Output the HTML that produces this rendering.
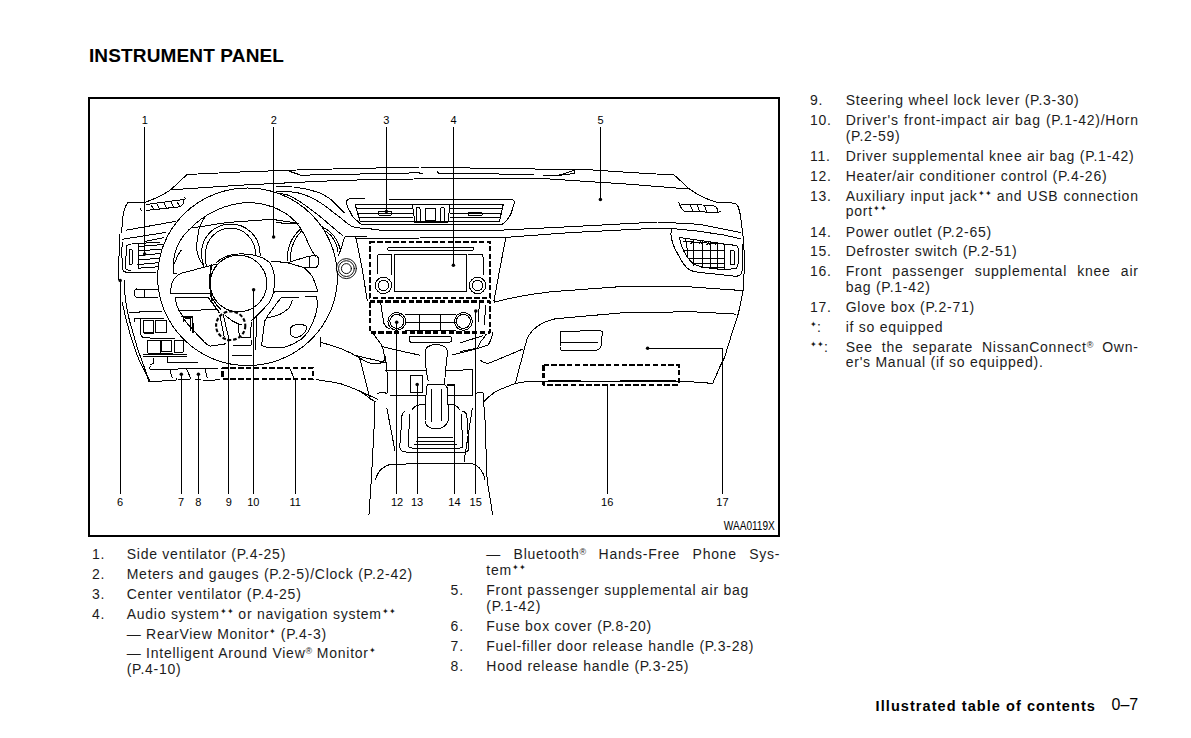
<!DOCTYPE html>
<html><head><meta charset="utf-8"><title>Instrument Panel</title>
<style>
html,body{margin:0;padding:0;background:#fff;}
body{width:1191px;height:738px;position:relative;overflow:hidden;font-family:"Liberation Sans",sans-serif;color:#000;}
.t{position:absolute;font-size:14px;line-height:16px;letter-spacing:0.75px;white-space:nowrap;color:#1c1c1c;}
.t.j{text-align:justify;text-align-last:justify;white-space:normal;}
.st{font-size:8px;vertical-align:5px;letter-spacing:0;line-height:0;}
.rg{font-size:9px;vertical-align:4px;letter-spacing:0;line-height:0;}
.h1{position:absolute;font-size:19px;line-height:19px;font-weight:bold;letter-spacing:0.15px;white-space:nowrap;}
.frame{position:absolute;left:88px;top:97px;width:688px;height:436px;border:2px solid #000;}
.foot{position:absolute;font-size:14.5px;line-height:16px;font-weight:bold;letter-spacing:1.07px;white-space:nowrap;}
.pg{position:absolute;font-size:16px;line-height:16px;white-space:nowrap;}
svg.dr{position:absolute;left:0;top:0;}

</style></head>
<body>
<div class="h1" style="left:88.9px;top:46.12px;">INSTRUMENT PANEL</div>
<div class="frame"></div>
<svg class="dr" width="1191" height="738" viewBox="0 0 1191 738">
<g fill="none" stroke="#000" stroke-width="1" stroke-linecap="round" stroke-linejoin="round" shape-rendering="crispEdges">
<!-- dashboard top lines -->
<path d="M187,174.5 L240,172 L311,169.5 L420,167 L500,168.6 L587,169.6 L631.6,172.6 L674,175 C680,180 684,184 688,188 C696,194 706,199 716,202 L735,203.2 C739,205 740,212 741,220 L743.5,240 L744.5,260 L743.5,289"/>
<path d="M187,174.5 L170.7,189.8 C163,195 153,199.5 144.7,202.5 L127.6,202.7 C123.5,208 122.5,216 122.2,224.3 L121.6,233"/>
<path d="M170.7,189.8 L240.5,185.2 L321,181.2 L381.5,179.2 L500,178.5 L542.3,178.5 L631.6,184.4 L688,189"/>
<path d="M288.8,171.1 L301,175.2 L419,172.8 C420.5,173.8 421.5,174 423,173.8 M437.5,172 C438.5,173.5 439.5,173.8 441,173.6 L450,173.6 L534,174.3 M543,175 L561,175"/>
<path d="M558,175.5 L575,170 L574,173.5 Z"/>
<!-- hood sweep line across -->
<path d="M276.1,191 L288.3,191.6 C293,192 297,192.5 300.5,193.4 C304,194.5 307,195.8 310.2,197.1 C314,199 318,201 321.2,203.2 C325,206 328,208 331,210.5 L340.7,217.8 C343,220 345.5,222 348,223.9 C350,225.5 352.5,227 355.4,227.6 L370,228.8 L380,230.2 L500,230.2 L570.5,226.7 L657.5,222 L699.8,224.3 L741,232.6"/>
<path d="M355.1,238.4 L504,237.5 L570.5,232.6 L641,229 L672.9,228.6 L698.6,231.2 L724.4,235.1 L741.1,238.9"/>
<!-- passenger lower dash -->
<path d="M494.1,302.3 C510,298 530,294 550.5,291.8 L621,286.6 L691.6,287 L743,290.6"/>
<!-- glove box -->
<path d="M527,338.8 C531,330 538,323 555.2,318.8 L621,312.9 L691.6,311.7 L736.2,314.1"/>
<path d="M527,338.8 L515.3,383.4 C525,381.5 533,381 538.8,381.1 L682.2,381.1 L712.7,383.4 L719.8,367"/>
<path d="M743.5,289 L741,301.2 C739,312 736,322 733.9,327 L724.5,357.6 L719.8,367"/>
<path d="M561,331.5 L600,330.5 L602.5,331.5 L601,346 C600,349.5 598,350.5 594,350.5 L563,350.5 C560.5,350.5 559.8,349 560,346 Z M560.5,342.2 L598,342.2"/>
<path d="M480,360 C484,364 488,364 492,362 L522.3,349.3"/>
<path d="M483.5,402.2 C490,395 497,390 503.5,388.1 L515.3,383.4"/>
<!-- passenger side vent -->
<path d="M671.6,229.9 C670.8,232 670.8,233.5 671,235.1 C671.5,238 672,241 672.9,244.1 C674.5,248 676,251 678,254.4 C680,258 681.5,261 683.2,263.4 C685,266 687,268.5 689.6,269.8 C692,271.2 695,272 698.6,272.4 L724.4,275 L736,276.3 C738.5,276 740.5,275 741.1,273.7 C742,271.5 742.4,269.5 742.4,267.3 L742.4,244.1"/>
<path d="M679.3,237.6 C680,240.5 680.8,243.5 681.9,246.6 C683.5,251 685.5,255 688.3,258.2 C690,261 692,263 694.8,264.7 C700,266.5 705,267.8 711.5,268.5 L724.4,269.8 L736,268.5 C737.5,266.5 738.3,264 738.5,262.1 L738.5,249.2 C738.3,247.5 737.3,246 736,245.4 L724.4,244.1 L685.7,238.3 Z"/>
<path d="M684,241.5 L724.4,244.1 M683,250.5 L724.4,250.5 M688,258.2 L724.4,258.2 M694,263.4 L724.4,263.4 M700,267 L724.4,267.5"/>
<path d="M685.7,238.3 L688,256 M693.5,239.5 L693.5,265.5 M702.5,240.5 L702.5,267.5 M710.2,241.5 L710.2,268.3 M717.9,242.5 L717.9,269.2 M724.4,244.1 L724.4,269.8"/>
<path d="M730.2,251.5 C730.2,250.8 731,250.5 732.4,250.5 C734,250.5 734.7,251 734.7,252 L734.7,263.5 C734.7,264.3 734,264.7 732.4,264.7 C731,264.7 730.2,264.3 730.2,263.5 Z"/>
<path d="M691,243.5 L692.5,241.5 L694,243.5 M699,244 L700.5,242 L702,244 M707,244.5 L708.5,242.5 L710,244.5 M715,245 L716.5,243 L718,245"/>
<!-- right defroster vent -->
<path d="M678.7,202 C680,206 682,210 684,211 L718,212.6 L721,211 M681,204 L713,205.5 C716,206 718,209 718,212 M690,204.5 L693,211.5 M697,205 L700,212 M704,205 L707,212"/>

<!-- left top small vent -->
<path d="M146.9,204.4 L183.7,199.5 C185.5,199 185.5,198 184.8,197.8 M146.9,210.4 L179.4,206.8 C182,206 184,203 184,199.8"/>
<path d="M151,205 L154,209.8 M157,204.3 L160,209.4 M164,203.4 L167,208.6 M171,202.5 L174,207.8 M177,201.7 L180,207"/>
<path d="M140,208 L141.5,210.5"/>
<!-- left panel -->
<path d="M119.4,234.7 L118.6,280"/>
<path d="M126,230.2 L176,221.3 M122.4,239.2 L165.6,232.5 M144.7,241.4 L164,237.7"/>
<path d="M122.4,242.2 C121.5,250 122,262 123.1,270.5 C124,272 126,272.5 130,272.5 L156.6,272"/>
<path d="M126.8,245.9 C126,252 125.8,262 126,269 C127,270 128,270.5 131,270.5 M126.8,245.9 C128,244 131,243.6 138,243.6 L160,242"/>
<path d="M129.5,249.6 C131.5,249 132.5,250 132.5,252 L132.5,263 C132.5,265 130.5,265 129.5,264 C129,262 129,252 129.5,249.6 Z"/>
<path d="M138,243.6 L138,269.2"/>
<path d="M138,246.6 L163,244.5 M138,251.1 L162,249 M138,255.6 L161,253.5 M138,260 L160,258.2 M138,264.5 L159,262.7 M138,268.2 L158,266.8"/>
<path d="M124.4,280 C124.5,290 125,297 126,302.8 C127.5,312 129,320 130.9,325.5 C134,336 136,343 137.4,348.3 L143.9,366.2 L148.8,380.8"/>
<path d="M122.2,302.4 C127,325 133,345 139,360 L150.2,381.7"/>
<path d="M148.8,381.5 L175.9,380.5 L177,378.5 M178,379.5 L189.3,379.3 M195.4,379.3 L201,379.5 M203,380.5 L211.2,380.5 L219.8,379.3"/>
<path d="M136.5,289 L157.5,289 M136.5,297.3 L157.5,297.3 M136.5,289 C133.5,290 133.5,296 136.5,297.3 M144.7,289 L144.7,297.3"/>
<!-- switches -->
<path d="M129.5,312.2 L161.2,311.6 M134.4,321.5 L134.4,318.3 L163.7,318.3 M140.5,318.3 L140.5,334 C141,336 143,337.8 145.4,337.8 L175,339"/>
<path d="M143.5,320.1 L153.3,320.1 L153.3,332.3 L143.5,332.3 Z M144.5,333.2 L153.8,333.2 M155.7,320.1 L166.1,320.1 L166.1,332.3 L155.7,332.3 Z"/>
<path d="M183.2,317 L192.9,317 L192.9,332.9 M183.2,317 L183.2,322"/>
<path d="M147.8,340.2 L160,340.2 L160,353 L147.8,353 Z M161.8,340.2 L171.6,340.2 L171.6,351.2 L161.8,351.2 Z M174,340.2 L183.2,340.2 L183.2,352 L174,352 Z M148.5,353.8 L173,353.8"/>
<path d="M142.9,354.9 L186.8,354.9 M142.9,356.1 L186.8,356.1"/>
<path d="M153.9,358.5 L153.3,363.4 L150.5,364.6 M167.3,356.1 L167.3,362.2 L197.8,362.2"/>
<path d="M151,365.9 C149.5,366.5 149.5,369 150.5,369.5 L217.3,368.3"/>
<path d="M169.8,369.5 L172.2,378 M186.8,369.5 L190.5,378 M205.1,369.5 C206.5,372 205,374 207.6,378"/>
<!-- steering wheel outer -->
<ellipse cx="247.5" cy="276.8" rx="89.9" ry="88.8"/>
<!-- inner rim upper -->
<path d="M173.1,265.2 C174,250 180,238 188.7,230 C203,215 224,203.5 247.7,202.5 C270,203 290,212 300.3,227.9 C305,235 308,242 309.8,246.9 L315.2,256.4"/>
<!-- inner rim lower left -->
<path d="M175.4,298 C176,305 178,309 180.8,313 C184,320 187,324 191.7,328.2 C196,333 199,337 202.5,340.1 C205,343 207,345 210.1,346.1 L225.3,343.9"/>
<!-- inner rim lower right / right spoke lower contour -->
<path d="M316.7,296.9 L317.5,305 C317,310 316,314 315.1,316.3 C313,322 311,327 308.6,331 C305,336 302,339 298.9,340.7 C294,344 289,346 284.2,347.2 L269.6,348 L261.5,345.6 L264.7,321.2 L266.4,318"/>
<!-- gauges -->
<path d="M203.9,266.4 C202,262 201.5,257 201.6,252 C202,236 215,224 230.5,224 C246,224 259.5,236 259.7,252 L260.5,255.2"/>
<path d="M206.2,266.3 C205.8,262 205.5,257 205.5,253 C206,239 217,228.2 230.5,228.2 C244,228.2 255,239 255.5,253 L255.7,256"/>
<path d="M287.5,260.5 C287,250 289,240 300.3,229.3 M290.2,260.5 C290,251 292,241 301.7,230.7"/>
<!-- cluster hood line -->
<path d="M191.9,228 L227,222.5 L271.7,219.3 L298.8,223.3"/>
<!-- left cluster bezel -->
<path d="M206.3,215.3 C201,222 199,227 198.3,232.9 C197,240 196.5,244 196.7,248.8 C197.5,255 199,260 203,264.8"/>
<path d="M181.3,250 C178,255 176,258 175.8,260.8 L173.1,265.2 L173.1,273.3 L176.9,273.8"/>
<!-- hub -->
<circle cx="238.5" cy="283.5" r="28.3"/>
<path d="M211.6,265.2 C209.5,272 209.5,292 212,300" stroke-width="1.6"/>
<path d="M211.3,300 C213,305 216,308 218.8,310.8 M212.3,298 C215,304 218,307 221,309.5"/>
<path d="M216,263 C222,257 230,254 240.9,253.8 C255,254 265,258 270,263 C274,270 275,278 274.5,284 C274,295 270,303 265.8,306.4 C262,311 258,315 251.7,320.5"/>
<!-- left spoke -->
<path d="M217,264 L197.5,269 L181.3,273.3 C177,275 173,279 171.5,284.7 L170.4,291.2 L171,294.4"/>
<path d="M170.4,293.4 L209.4,293.4"/>
<path d="M175.8,297.7 L208.4,297.7 L219.2,312.9"/>
<path d="M178.7,310.3 L215.5,309.8"/>
<path d="M181.9,316.3 L192.8,316.3 L193.3,332.5 M184.1,317.9 L190.6,319 L191,331"/>
<!-- right spoke -->
<path d="M271.2,261.1 L287.5,262.7 L303.7,267.6 C307,270 310,273 312,276 C314.5,281 316.5,286 317.5,290.4"/>
<path d="M274.5,292 L317.5,291.7"/>
<path d="M281.8,297.2 L298.9,297.2 M305.4,296.5 L316.7,296.9"/>
<path d="M281.8,297.2 C278,301 276,304 274.5,306.6 C271,311 268,315 266.4,318 C272,317 276,316 279.4,314.7 C284,312 288,309 289.1,308.2 C291,305 292,302 292.4,300.1"/>
<path d="M290,331 C290,327 293,324.5 299,324.5 C304,324.5 307,326 307,327.5 C306,332 302,336 297,337.5 C293,337.5 290,335 290,331 Z"/>
<!-- wiper stalk -->
<path d="M287.5,262.7 L308.6,256.2 L316,255.6 C318.5,256 318.8,260 318.6,263 C318.4,266 317,267.6 314,267.6 L308.6,267.8 L303.7,267.6 M309.3,256.2 L310,267.6"/>
<!-- right side hood lines -->
<path d="M276.1,186.1 L292,186.1 M294.4,187.3 C300,188 303,188.5 306.6,189.1 C312,190.5 317,192 321.2,193.4 C325,195.5 328,197.5 331,199.5 C334,202 336,204.5 338.3,206.8 L344.4,212.9"/>
<path d="M276.1,192.8 C281,193.5 285,194.3 288.3,195.2 C291,196.2 292.5,197 294.4,198.3 L300.5,202 L309,208 L318.8,215.4 L327.3,222.7 L335.9,230 L343.2,236.1"/>
<path d="M322.4,227 C329,230 334,235 337.1,241 C339,245 340.3,248 340.7,252 M324.5,230.5 C330,233.5 333.5,238 335.5,243 C337,246 337.8,249 338,252"/>
<path d="M344.4,237.3 L342,245.9 L338.3,255.6"/>
<path d="M276.1,222.7 L296.8,223.9"/>
<!-- column / lever 9 -->
<path d="M223.1,314.1 L229.1,340.1 M219.9,315.2 L224.2,336.8 M225.3,315.2 C230,320 235,323 241.5,324.9 M238.3,324.9 L239.4,336.8 L250.2,337.9 L251.3,322.8"/>
<path d="M232.9,345 L251.3,345 C252,344 252,342 251.5,341 M232.9,355.3 L251.3,355.3"/>
<path d="M256.7,315.2 L255.6,349.9"/>
<!-- lower right dash edges -->
<path d="M320.3,342.3 C327,344 334,346 340.6,348.4 C347,351 353,354 359.6,357.9 C363,360 366,362 370.4,363.3 L378.6,364 C381,363 383,362 384,360.6 L385.3,356.6"/>
<path d="M320.3,337.6 L320.3,347"/>
<path d="M359.6,357.9 L370.4,400"/>
<path d="M316.3,379.6 C325,381 333,382 340.6,383.7 C347,386 353,388 358.2,390.4 C363,393 367,396 370.4,398.6 L375.8,402"/>
<!-- center vent 3 -->
<path d="M346,202.1 C347,200 348,199 349.1,198.8 L364.2,198.3 M389.9,199.4 L503.2,199.4 L512.3,199.8 C514,200.5 514.8,201.5 514.5,202.8 L510.8,214.2 C508,219 506,221 504.7,222.5 C503.5,223.5 502,224.5 500.2,224.8 L362.7,224.8 C360,224 358,222 356.6,220.2 C354,219 352,216 350.6,212.7 C349,210 347,206 346,202.1"/>
<path d="M355.1,204.7 L503.2,204.7 M355.1,204.7 C357,210 358,215 359.8,221 L499.5,221 M503.2,204.7 C502,210 501,215 499.5,221"/>
<path d="M357,208.9 L412.5,208.9 M358.5,213.4 L412.5,213.4 M359.5,217.2 L412.5,217.2 M450,208.9 L502,208.9 M450,213.4 L501,213.4 M450,217.2 L500.5,217.2"/>
<path d="M412.5,204.7 L449.9,204.7 L448,222.5 L414.8,222.5 Z"/>
<path d="M416.3,208.5 C416.3,207.5 417,207.2 418,207.2 C419.5,207.2 420.1,207.8 420.1,209 L420.1,220.5 C420.1,221.5 419.5,221.8 418.5,221.8 C417,221.8 416.3,221 416.3,220 Z"/>
<rect x="425.4" y="208.6" width="10.1" height="11.6"/>
<path d="M440.5,209 C440.5,207.8 441.2,207.2 442.5,207.2 C443.8,207.2 444.3,208 444.3,209 L444.3,220.5 C444.3,221.5 443.6,221.8 442.5,221.8 C441.2,221.8 440.5,221 440.5,220 Z"/>
<rect x="378.5" y="211.9" width="12.9" height="3.1"/>
<rect x="468.5" y="212.7" width="13.5" height="2.5"/>
<!-- center stack sides -->
<path d="M345,236.1 L366.7,236.7 M355.9,237.4 L362,268 L367.3,300.6"/>
<path d="M505.9,237.2 L500,268 L494,300.6 L494,302"/>
<!-- audio unit -->
<rect x="369.6" y="241.7" width="120.7" height="55.9" stroke-width="2.2" stroke-dasharray="5.5 2.3" stroke-linecap="butt"/>
<rect x="387.5" y="247.7" width="86.4" height="2.6" rx="1.3"/>
<rect x="394.6" y="254.4" width="71.8" height="37.2"/>
<circle cx="383.4" cy="285.4" r="8.2"/><circle cx="383.4" cy="285.4" r="5.2"/>
<circle cx="477.6" cy="285.4" r="8.2"/><circle cx="477.6" cy="285.4" r="5.2"/>
<path d="M377,275.2 L377.3,257 C377.5,255 378.5,254.4 380,254.4 L391.2,254.4 L391.2,275"/>
<path d="M468.5,254.4 L480.5,254.4 C482,254.4 483,255.5 483,257 L484,275"/>
<!-- climate -->
<rect x="369.6" y="301.5" width="120.3" height="31" stroke-width="2.2" stroke-dasharray="5.5 2.3" stroke-linecap="butt"/>
<circle cx="396.8" cy="321.4" r="8.9"/><circle cx="396.8" cy="321.4" r="7"/>
<circle cx="463.4" cy="321.4" r="8.9"/><circle cx="463.4" cy="321.4" r="7"/>
<path d="M405.3,314.7 L455.2,314.7 M405.3,330.4 L455.2,330.4 M405.3,322.9 L455.2,322.9 M419.5,314.7 L419.5,330.4 M440.3,314.7 L440.3,330.4"/>
<path d="M380.8,303.5 L383.7,322.9 C385,326 387,328 390,329 M479.5,303.5 L478,322 M486,305 L484,325"/>
<rect x="409" y="336.3" width="42.5" height="6" rx="2.5"/>
<path d="M373.3,333.3 C376,338 378,340 381.3,344.4 C383,348 384,351 384,353.9 L386.7,364.7 L388,393.1"/>
<path d="M381.3,346.4 C395,350 410,353 420,355.2 M452,355 C465,352 478,349 488,345 C491,341 492,337 492.5,333"/>
<path d="M486.4,334 C485,337 483,339 481,341 C479.5,343.5 478.5,345.5 477.6,348 M460,342.8 L483,335.8 M460,351.6 L477.6,348.1"/>
<!-- console -->
<path d="M425.1,352.4 C425,347 430,344.6 436.3,344.6 C442,344.6 447.5,347 447.5,352.4 L445.5,370.7 L444.5,384.9 M425.1,352.4 L426.2,370.7 L428.2,380.8"/>
<path d="M428.2,384 C426.5,385.5 426.2,387 426.2,390 L425,421 C425.5,426 430,428.6 436.3,428.6 C443,428.6 447,425 448.5,419.5 L447.5,390 C447.3,386.5 446.5,385.5 444.5,384.9 Z"/>
<path d="M431.3,389 L431.5,421 M441.4,389 L441.2,421"/>
<rect x="410.3" y="375.7" width="12.2" height="16.3"/>
<path d="M385.5,370.7 L425.5,370.7 M445.5,370.7 L472.9,369.6 M389.6,395 L425,395 M447.5,395 L473,395"/>
<path d="M355,355.4 L385.5,362.5 M355,389 L377.4,399.1"/>
<path d="M378,393.5 C379,392.6 381,392.3 384,392.5 L387,393.5 M374.5,402 L374.5,420 L371.3,480 L369,514.5"/>
<path d="M483,393 L485,420 L487.1,480 L492.7,515"/>
<path d="M475,394 C478,392 481,392 483,393"/>
<path d="M386.9,408.5 L395,451 M472.9,369.6 L473,395 M472.3,408.5 L464.1,461.3"/>
<path d="M375.3,480 C378,470 385,465 391.6,464.2 L468.8,463.2 C478,464 483,470 485,480"/>
<path d="M405,411.3 C402,412 401.5,415 401.8,420 L399.7,447 C400,451 402,452 406,452 L465,452 C468,452 469,450 468.8,447 L467,418 C467,414 465,411.3 462,411.3"/>
<path d="M410,414 L408,445 C408,447 410,448 412,448 L460,448 C462,448 463,447 463,445 L461,414 M418,437.5 L453,437.5 M416,441 L455,441 M414,444.5 L457,444.5"/>
<path d="M426,404 C420,404 414,406 412,410 M447,404 C454,404 458,406 460,410"/>
<!-- hazard knob -->
<g shape-rendering="geometricPrecision" stroke-width="0.95"><circle cx="346.4" cy="268.6" r="10"/>
<circle cx="346.4" cy="268.6" r="7.9"/>
<circle cx="346.4" cy="268.6" r="5"/></g>
<!-- leaders -->
<g stroke-width="1.1">
<path d="M144.6,127.5 L144.6,254"/>
<path d="M273.6,127.5 L273.6,237"/>
<path d="M386.4,127.5 L386.4,211.4"/>
<path d="M453.4,127.5 L453.4,265.3"/>
<path d="M600.4,127.5 L600.4,199.4"/>
<path d="M120.2,280.6 L120.2,493.5"/>
<path d="M181.3,374.2 L181.3,493.5"/>
<path d="M198.4,374.2 L198.4,493.5"/>
<path d="M228.5,340.2 L228.5,493.5"/>
<path d="M253.6,289.8 L253.6,493.5"/>
<path d="M295.1,379.5 L295.1,493.5"/>
<path d="M396.7,322.3 L396.7,493.5"/>
<path d="M417.2,384.6 L417.2,493.5"/>
<path d="M447.5,385 L454.5,385 L454.5,493.5"/>
<path d="M475.8,311 L475.8,493.5"/>
<path d="M607.5,384.6 L607.5,493.5"/>
<path d="M647.6,348.2 L722.3,348.2 L722.3,493.5"/>
</g>
<g fill="#000" stroke="none" shape-rendering="geometricPrecision">
<circle cx="144.6" cy="254" r="1.75"/><circle cx="273.6" cy="237" r="1.75"/><circle cx="386.4" cy="211.4" r="1.75"/>
<circle cx="453.4" cy="265.3" r="1.75"/><circle cx="600.4" cy="199.4" r="1.75"/><circle cx="120.2" cy="280.6" r="1.75"/>
<circle cx="181.3" cy="374.2" r="1.75"/><circle cx="198.4" cy="374.2" r="1.75"/><circle cx="253.6" cy="289.8" r="1.75"/>
<circle cx="396.7" cy="322.3" r="1.75"/><circle cx="417.2" cy="384.6" r="1.75"/><circle cx="475.8" cy="311" r="1.75"/>
<circle cx="647.6" cy="348.2" r="1.75"/><circle cx="228.5" cy="340.2" r="1.4"/>
</g>
<!-- dashed: knee airbag, passenger knee airbag, circle 9 -->
<rect x="222.5" y="367.9" width="90.8" height="11.2" stroke-width="2.2" stroke-dasharray="5.5 2.3" stroke-linecap="butt"/>
<rect x="543.5" y="364.6" width="135.1" height="20" stroke-width="2.2" stroke-dasharray="5.5 2.3" stroke-linecap="butt"/>
<ellipse cx="230.7" cy="325.7" rx="14.6" ry="14.3" stroke-width="2.1" stroke-dasharray="3.6 1.9" stroke-linecap="butt" shape-rendering="geometricPrecision"/>
<path d="M548,380.8 L581,380.8 M620,380.8 L676,381"/>
<path d="M290,369 L294,378"/>
</g>
<g font-family="Liberation Sans, sans-serif" font-size="11" text-anchor="middle" fill="#000">
<text x="144.8" y="124">1</text>
<text x="273.8" y="124">2</text>
<text x="386.4" y="124">3</text>
<text x="453.5" y="124">4</text>
<text x="600.5" y="124">5</text>
<text x="120" y="506">6</text>
<text x="181" y="506">7</text>
<text x="198.3" y="506">8</text>
<text x="228.7" y="506">9</text>
<text x="253.3" y="506">10</text>
<text x="295.2" y="506">11</text>
<text x="397" y="506">12</text>
<text x="417" y="506">13</text>
<text x="454.4" y="506">14</text>
<text x="475.7" y="506">15</text>
<text x="607.2" y="506">16</text>
<text x="722.4" y="506">17</text>
<text x="723.8" y="530" text-anchor="start" font-size="12" textLength="51" lengthAdjust="spacingAndGlyphs">WAA0119X</text>
</g>
</svg>

<div class="t" style="left:810px;top:92.35px;">9.</div>
<div class="t" style="left:845.7px;top:92.35px;">Steering wheel lock lever (P.3-30)</div>
<div class="t" style="left:810px;top:112.15px;">10.</div>
<div class="t j" style="left:845.7px;top:112.15px;width:293px;">Driver's front-impact air bag (P.1-42)/Horn</div>
<div class="t" style="left:845.7px;top:127.65px;">(P.2-59)</div>
<div class="t" style="left:810px;top:148.15px;">11.</div>
<div class="t" style="left:845.7px;top:148.15px;">Driver supplemental knee air bag (P.1-42)</div>
<div class="t" style="left:810px;top:168.15px;">12.</div>
<div class="t" style="left:845.7px;top:168.15px;">Heater/air conditioner control (P.4-26)</div>
<div class="t" style="left:810px;top:187.95px;">13.</div>
<div class="t j" style="left:845.7px;top:187.95px;width:293px;">Auxiliary input jack<span class="st">&#10022;&#10022;</span> and USB connection</div>
<div class="t" style="left:845.7px;top:202.75px;">port<span class="st">&#10022;&#10022;</span></div>
<div class="t" style="left:810px;top:223.75px;">14.</div>
<div class="t" style="left:845.7px;top:223.75px;">Power outlet (P.2-65)</div>
<div class="t" style="left:810px;top:243.25px;">15.</div>
<div class="t" style="left:845.7px;top:243.25px;">Defroster switch (P.2-51)</div>
<div class="t" style="left:810px;top:262.95px;">16.</div>
<div class="t j" style="left:845.7px;top:262.95px;width:293px;">Front passenger supplemental knee air</div>
<div class="t" style="left:845.7px;top:278.85px;">bag (P.1-42)</div>
<div class="t" style="left:810px;top:298.95px;">17.</div>
<div class="t" style="left:845.7px;top:298.95px;">Glove box (P.2-71)</div>
<div class="t" style="left:810px;top:318.85px;"><span class="st">&#10022;</span>:</div>
<div class="t" style="left:845.7px;top:318.85px;">if so equipped</div>
<div class="t" style="left:810px;top:338.75px;"><span class="st">&#10022;&#10022;</span>:</div>
<div class="t j" style="left:845.7px;top:338.75px;width:293px;">See the separate NissanConnect<span class="rg">&reg;</span> Own-</div>
<div class="t" style="left:845.7px;top:354.45px;">er's Manual (if so equipped).</div>
<div class="t" style="left:92px;top:545.85px;">1.</div>
<div class="t" style="left:126.7px;top:545.85px;">Side ventilator (P.4-25)</div>
<div class="t" style="left:92px;top:565.75px;">2.</div>
<div class="t" style="left:126.7px;top:565.75px;">Meters and gauges (P.2-5)/Clock (P.2-42)</div>
<div class="t" style="left:92px;top:585.65px;">3.</div>
<div class="t" style="left:126.7px;top:585.65px;">Center ventilator (P.4-25)</div>
<div class="t" style="left:92px;top:605.85px;">4.</div>
<div class="t" style="left:126.7px;top:605.85px;">Audio system<span class="st">&#10022;&#10022;</span> or navigation system<span class="st">&#10022;&#10022;</span></div>
<div class="t" style="left:126.7px;top:625.75px;">&mdash; RearView Monitor<span class="st">&#10022;</span> (P.4-3)</div>
<div class="t" style="left:126.7px;top:645.05px;">&mdash; Intelligent Around View<span class="rg">&reg;</span> Monitor<span class="st">&#10022;</span></div>
<div class="t" style="left:126.7px;top:661.25px;">(P.4-10)</div>
<div class="t j" style="left:486.3px;top:546.45px;width:294px;">&mdash; Bluetooth<span class="rg">&reg;</span> Hands-Free Phone Sys-</div>
<div class="t" style="left:486.3px;top:561.75px;">tem<span class="st">&#10022;&#10022;</span></div>
<div class="t" style="left:450.6px;top:582.05px;">5.</div>
<div class="t" style="left:486.3px;top:582.05px;">Front passenger supplemental air bag</div>
<div class="t" style="left:486.3px;top:597.65px;">(P.1-42)</div>
<div class="t" style="left:450.6px;top:617.55px;">6.</div>
<div class="t" style="left:486.3px;top:617.55px;">Fuse box cover (P.8-20)</div>
<div class="t" style="left:450.6px;top:637.95px;">7.</div>
<div class="t" style="left:486.3px;top:637.95px;">Fuel-filler door release handle (P.3-28)</div>
<div class="t" style="left:450.6px;top:657.65px;">8.</div>
<div class="t" style="left:486.3px;top:657.65px;">Hood release handle (P.3-25)</div>
<div class="foot" style="left:875.6px;top:697.68px;">Illustrated table of contents</div>
<div class="pg" style="left:1111.5px;top:696.96px;">0&ndash;7</div>
</body></html>
